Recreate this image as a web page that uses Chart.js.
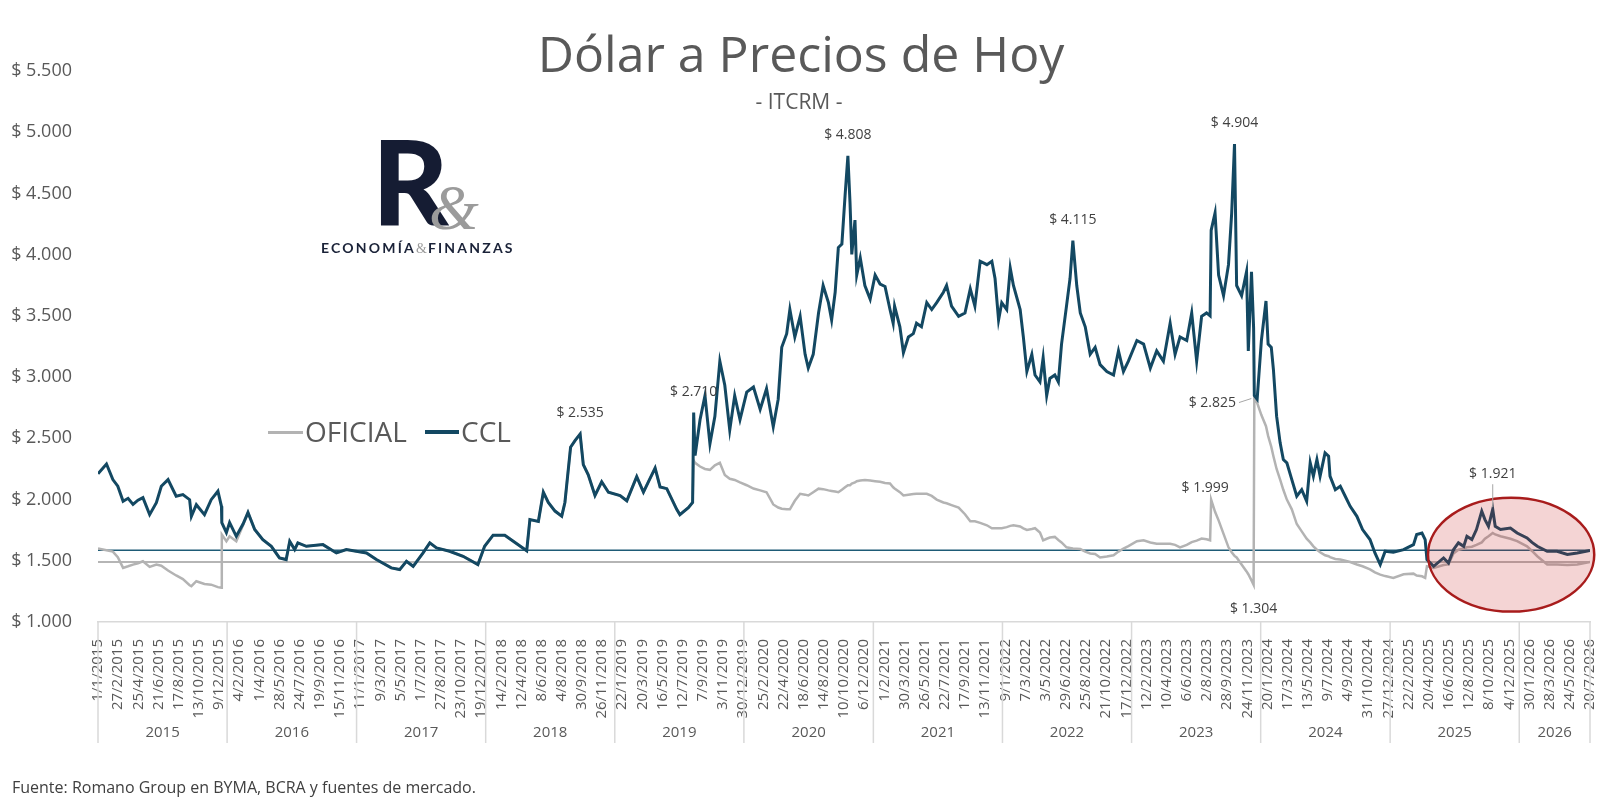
<!DOCTYPE html>
<html lang="es">
<head>
<meta charset="utf-8">
<title>Dólar a Precios de Hoy</title>
<script src="https://cdn.jsdelivr.net/npm/chart.js@4.4.1/dist/chart.umd.min.js"></script>
<style>
    html, body { margin: 0; padding: 0; background: #fff; }
    #wrap { position: relative; width: 1600px; height: 800px; overflow: hidden; font-family: "Open Sans", sans-serif; }
    #grafico { position: absolute; left: 0; top: 0; }
    .txt { position: absolute; white-space: nowrap; line-height: 1; }
    #titulo { left: 1px; width: 1600px; top: 28px; font-size: 50px; color: #595959; text-align: center; }
    #subtitulo { left: -1px; width: 1600px; top: 91px; font-size: 21px; color: #595959; text-align: center; }
    #logoR { left: 372px; top: 122px; font-family: "Lato", sans-serif; font-weight: 900; font-size: 118px; color: #151c33; }
    #logoAmp { left: 429px; top: 176px; font-family: "Liberation Serif", serif; font-style: italic; font-size: 64px; color: #9b9b9b; }
    #logoSub { left: 321px; top: 241px; font-family: "Lato", sans-serif; font-weight: 700; font-size: 14px; letter-spacing: 2.2px; color: #1a2238; }
    #logoSub .amp { font-family: "Liberation Serif", serif; font-weight: 400; color: #9b9b9b; letter-spacing: 1px; }
    .ley { font-size: 28px; color: #595959; top: 417px; }
    .lin { position: absolute; }
    #fuente { left: 12px; top: 779px; font-size: 16px; color: #404040; }
</style>
</head>
<body>
<div id="wrap">
    <canvas id="grafico" width="1600" height="800"></canvas>
    <div class="txt" id="titulo">Dólar a Precios de Hoy</div>
    <div class="txt" id="subtitulo">- ITCRM -</div>
    <div class="txt" id="logoR">R</div>
    <div class="txt" id="logoAmp">&amp;</div>
    <div class="txt" id="logoSub">ECONOMÍA<span class="amp">&amp;</span>FINANZAS</div>
    <div class="lin" style="left:268px; top:431px; width:35px; height:3px; background:#b3b3b3;"></div>
    <div class="txt ley" style="left:305px;">OFICIAL</div>
    <div class="lin" style="left:425px; top:430px; width:34px; height:4px; background:#134862;"></div>
    <div class="txt ley" style="left:461px;">CCL</div>
    <div class="txt" id="fuente">Fuente: Romano Group en BYMA, BCRA y fuentes de mercado.</div>
</div>

<script>
// --- Datos ---
const fechas = [
    '2015-01-01','2015-01-25','2015-02-12','2015-02-26','2015-03-13','2015-03-27','2015-04-10','2015-04-24','2015-05-08','2015-05-27','2015-06-15','2015-06-29','2015-07-18','2015-08-10','2015-08-29','2015-09-17','2015-09-22','2015-10-06','2015-10-29','2015-11-17','2015-12-06','2015-12-16','2015-12-17','2015-12-30',
    '2016-01-08','2016-01-27','2016-02-15','2016-02-29','2016-03-19','2016-04-11','2016-05-05','2016-05-28','2016-06-16','2016-06-26','2016-07-10','2016-07-19','2016-08-12','2016-09-28','2016-11-05','2016-12-03','2016-12-31',
    '2017-01-29','2017-02-26','2017-04-09','2017-05-03','2017-05-22','2017-06-10','2017-07-08','2017-07-27','2017-08-15','2017-09-21','2017-10-29','2017-12-10','2017-12-29',
    '2018-01-22','2018-02-24','2018-03-30','2018-04-27','2018-05-06','2018-05-30','2018-06-13','2018-06-27','2018-07-16','2018-08-04','2018-08-13','2018-08-29','2018-09-11','2018-09-25','2018-10-04','2018-10-18','2018-11-06','2018-11-25','2018-12-14',
    '2019-01-16','2019-02-04','2019-03-04','2019-03-23','2019-04-06','2019-04-25','2019-05-09','2019-05-28','2019-06-25','2019-07-04','2019-07-28','2019-08-09','2019-08-12','2019-08-16','2019-08-30','2019-09-13','2019-09-27','2019-10-11','2019-10-25','2019-11-08','2019-11-22','2019-12-06','2019-12-21',
    '2020-01-09','2020-01-28','2020-02-16','2020-03-05','2020-03-24','2020-04-07','2020-04-17','2020-05-01','2020-05-10','2020-05-24','2020-06-08','2020-06-22','2020-07-01','2020-07-15','2020-07-30','2020-08-12','2020-08-27','2020-09-05','2020-09-15','2020-09-24','2020-10-04','2020-10-13','2020-10-21','2020-10-27','2020-11-01','2020-11-10','2020-11-15','2020-11-25','2020-12-08','2020-12-23',
    '2021-01-06','2021-01-20','2021-02-03','2021-02-17','2021-02-26','2021-03-02','2021-03-17','2021-03-27','2021-04-10','2021-04-24','2021-05-03','2021-05-17','2021-06-01','2021-06-15','2021-06-29','2021-07-18','2021-07-27','2021-08-10','2021-08-30','2021-09-17','2021-10-02','2021-10-15','2021-10-30','2021-11-18','2021-12-02','2021-12-11','2021-12-21','2021-12-30',
    '2022-01-13','2022-01-23','2022-02-01','2022-02-20','2022-03-01','2022-03-11','2022-03-25','2022-04-03','2022-04-17','2022-04-26','2022-05-06','2022-05-15','2022-05-29','2022-06-08','2022-06-17','2022-07-01','2022-07-11','2022-07-19','2022-07-30','2022-08-09','2022-08-23','2022-09-06','2022-09-20','2022-10-04','2022-10-23','2022-11-11','2022-11-25','2022-12-09','2022-12-23',
    '2023-01-16','2023-02-04','2023-02-23','2023-03-13','2023-04-01','2023-04-20','2023-05-04','2023-05-18','2023-06-06','2023-06-20','2023-07-04','2023-07-18','2023-08-01','2023-08-11','2023-08-14','2023-08-25','2023-09-04','2023-09-18','2023-10-02','2023-10-11','2023-10-19','2023-10-25','2023-11-08','2023-11-22','2023-11-27','2023-12-06','2023-12-12','2023-12-14','2023-12-22',
    '2024-01-03','2024-01-16','2024-01-22','2024-01-31','2024-02-06','2024-02-15','2024-02-25','2024-03-05','2024-03-15','2024-03-29','2024-04-12','2024-04-26','2024-05-10','2024-05-20','2024-05-29','2024-06-08','2024-06-17','2024-07-01','2024-07-11','2024-07-15','2024-07-30','2024-08-13','2024-08-27','2024-09-10','2024-09-29','2024-10-15','2024-11-05','2024-11-19','2024-12-04','2024-12-18',
    '2025-01-10','2025-02-08','2025-03-08','2025-03-17','2025-04-01','2025-04-10','2025-04-15','2025-05-04','2025-06-01','2025-06-15','2025-06-29','2025-07-13','2025-07-28','2025-08-06','2025-08-20','2025-09-02','2025-09-17','2025-09-26','2025-10-06','2025-10-18','2025-10-25','2025-11-09','2025-12-07','2025-12-26',
    '2026-01-23','2026-02-06','2026-02-21','2026-03-21','2026-04-18','2026-05-17','2026-06-14','2026-07-20'
];

const ccl = [
    2210,2290,2163,2109,1986,2010,1960,1995,2016,1877,1975,2109,2163,2027,2041,1999,1863,1958,1877,1999,2068,1945,1812,1730,
    1812,1700,1800,1894,1755,1673,1618,1524,1510,1659,1591,1646,1618,1632,1564,1591,1578,
    1564,1510,1442,1428,1496,1455,1564,1646,1605,1578,1537,1469,1618,
    1709,1709,1639,1582,1836,1822,2060,1976,1906,1864,1976,2427,2483,2535,2286,2202,2033,2145,2060,
    2033,1990,2187,2060,2145,2257,2103,2089,1920,1877,1934,1976,2710,2360,2652,2849,2455,2680,3130,2933,2567,2849,2652,
    2877,2919,2736,2905,2595,2820,3243,3355,3552,3328,3496,3186,3074,3186,3524,3748,3608,3467,3693,4058,4087,4480,4808,4424,4002,4283,3834,3974,3748,3637,
    3834,3760,3740,3552,3440,3580,3411,3200,3328,3355,3440,3411,3608,3552,3608,3693,3748,3580,3496,3524,3721,3580,3946,3918,3946,3805,3467,3608,
    3552,3890,3748,3552,3328,3046,3186,3017,2961,3158,2849,2989,3017,2961,3270,3580,3805,4115,3748,3524,3411,3186,3242,3102,3046,3017,3214,3046,3130,
    3299,3270,3074,3214,3130,3440,3186,3328,3299,3524,3130,3496,3524,3500,4199,4340,3834,3665,3918,4340,4904,3748,3665,3861,3214,3861,3400,2850,2820,
    3299,3622,3270,3242,3062,2681,2463,2327,2300,2163,2027,2081,1986,2300,2191,2327,2191,2381,2354,2191,2081,2109,2027,1945,1863,1755,1673,1564,1469,1578,
    1570,1591,1632,1714,1727,1673,1510,1455,1523,1482,1591,1646,1618,1700,1673,1755,1905,1836,1782,1921,1782,1755,1768,1727,
    1686,1650,1618,1578,1578,1551,1564,1585
];

const oficial = [
    1600,1586,1575,1530,1442,1455,1469,1480,1496,1450,1469,1460,1420,1380,1350,1300,1292,1333,1310,1305,1285,1279,1714,1659,
    1700,1660,1790,1894,1755,1673,1618,1524,1510,1659,1591,1646,1618,1632,1564,1591,1578,
    1564,1510,1442,1428,1496,1455,1564,1646,1605,1578,1537,1469,1618,
    1709,1709,1639,1582,1836,1822,2060,1976,1906,1864,1976,2427,2483,2535,2286,2202,2033,2145,2060,
    2033,1990,2187,2060,2145,2257,2103,2089,1920,1877,1934,1976,2320,2300,2270,2250,2243,2280,2300,2200,2170,2160,2140,
    2117,2090,2075,2060,1960,1935,1925,1920,1920,1990,2047,2040,2033,2060,2089,2085,2075,2070,2065,2060,2080,2100,2117,2117,2130,2140,2150,2155,2160,2155,
    2150,2145,2135,2131,2100,2090,2060,2033,2040,2045,2047,2047,2047,2030,2000,1976,1970,1955,1934,1880,1822,1822,1810,1790,1766,1766,1766,1766,
    1775,1785,1790,1780,1765,1752,1760,1766,1730,1667,1680,1690,1695,1670,1650,1610,1605,1600,1598,1596,1575,1560,1555,1527,1535,1545,1575,1600,1620,
    1660,1667,1650,1640,1639,1639,1630,1610,1630,1653,1665,1681,1675,1667,1999,1900,1830,1720,1610,1570,1540,1527,1470,1413,1390,1340,1304,2825,2790,
    2690,2599,2520,2430,2354,2250,2163,2080,2000,1920,1800,1740,1680,1650,1618,1590,1570,1545,1537,1530,1515,1510,1500,1490,1470,1455,1430,1405,1387,1375,
    1360,1390,1395,1380,1373,1360,1455,1442,1465,1470,1560,1590,1600,1610,1615,1630,1650,1680,1700,1727,1715,1700,1680,1660,
    1618,1580,1537,1469,1469,1465,1470,1490
];

// líneas horizontales con el último valor de cada serie
const refCCL = ccl[ccl.length - 1];
const refOficial = oficial[oficial.length - 1];

const yTicks = [1000, 1500, 2000, 2500, 3000, 3500, 4000, 4500, 5000, 5500];
const inicio = '2015-01-01';
const fin = '2026-07-20';
const pasoEtiquetas = 57; // días entre etiquetas del eje
const anios = [2015, 2016, 2017, 2018, 2019, 2020, 2021, 2022, 2023, 2024, 2025, 2026];

// puntos destacados (el texto sale del valor)
const destacados = [
    { serie: 'ccl', fecha: '2018-09-25' },
    { serie: 'ccl', fecha: '2019-08-12' },
    { serie: 'ccl', fecha: '2020-10-21' },
    { serie: 'ccl', fecha: '2022-07-19' },
    { serie: 'ccl', fecha: '2023-10-19' },
    { serie: 'oficial', fecha: '2023-08-14', dx: -6, dy: -12 },
    { serie: 'oficial', fecha: '2023-12-14', dx: -42, dy: 4, guia: 'h' },
    { serie: 'oficial', fecha: '2023-12-12', dy: 24 },
    { serie: 'ccl', fecha: '2025-10-18', dy: -35, guia: 'v' }
];

// zona resaltada (en unidades de datos)
const zona = { desde: '2025-04-18', hasta: '2026-08-01', min: 1085, max: 2015 };

// --- Utilidades ---
const T0 = Date.UTC(2015, 0, 1);
function dia(iso) {
    const [a, m, d] = iso.split('-').map(Number);
    return Math.round((Date.UTC(a, m - 1, d) - T0) / 86400000);
}
function fmtFecha(n) {
    const f = new Date(T0 + n * 86400000);
    return `${f.getUTCDate()}/${f.getUTCMonth() + 1}/${f.getUTCFullYear()}`;
}
function fmtPeso(v) {
    return '$ ' + String(Math.round(v)).replace(/\B(?=(\d{3})+(?!\d))/g, '.');
}
function puntos(valores) {
    return fechas.map((f, i) => ({ x: dia(f), y: valores[i] }));
}

const series = { ccl, oficial };
const xMin = dia(inicio);
const xMax = dia(fin);

// --- Plugin: elipse, etiquetas y eje de años ---
const extras = {
    id: 'extras',
    afterDatasetsDraw(chart) {
        const { ctx, scales: { x, y } } = chart;
        const x1 = x.getPixelForValue(dia(zona.desde));
        const x2 = x.getPixelForValue(dia(zona.hasta));
        const y1 = y.getPixelForValue(zona.max);
        const y2 = y.getPixelForValue(zona.min);
        ctx.save();
        ctx.beginPath();
        ctx.ellipse((x1 + x2) / 2, (y1 + y2) / 2, (x2 - x1) / 2, (y2 - y1) / 2, 0, 0, Math.PI * 2);
        ctx.fillStyle = 'rgba(200, 40, 40, 0.2)';
        ctx.fill();
        ctx.lineWidth = 2.5;
        ctx.strokeStyle = '#a81c1c';
        ctx.stroke();
        ctx.restore();
    },
    afterDraw(chart) {
        const { ctx, scales: { x, y } } = chart;
        ctx.save();

        // etiquetas de valores
        ctx.font = '14px "Open Sans"';
        ctx.textAlign = 'center';
        ctx.textBaseline = 'middle';
        destacados.forEach(d => {
            const i = fechas.indexOf(d.fecha);
            const v = series[d.serie][i];
            const px = x.getPixelForValue(dia(d.fecha));
            const py = y.getPixelForValue(v);
            const tx = px + (d.dx || 0);
            const ty = py + (d.dy === undefined ? -21 : d.dy);
            const texto = fmtPeso(v);
            ctx.fillStyle = '#404040';
            ctx.fillText(texto, tx, ty);
            ctx.strokeStyle = '#a6a6a6';
            ctx.lineWidth = 1;
            if (d.guia === 'h') {
                const w = ctx.measureText(texto).width;
                ctx.beginPath();
                ctx.moveTo(tx + w / 2 + 3, ty);
                ctx.lineTo(px - 3, py);
                ctx.stroke();
            } else if (d.guia === 'v') {
                ctx.beginPath();
                ctx.moveTo(tx, ty + 10);
                ctx.lineTo(px, py - 2);
                ctx.stroke();
            }
        });

        // separadores y nombres de años
        const arriba = x.top;
        const abajo = 743;
        ctx.strokeStyle = '#d9d9d9';
        ctx.lineWidth = 1.5;
        ctx.font = '15px "Open Sans"';
        ctx.fillStyle = '#595959';
        anios.forEach(a => {
            const ini = Math.max(x.getPixelForValue(dia(`${a}-01-01`)), x.left);
            const finA = Math.min(x.getPixelForValue(dia(`${a + 1}-01-01`)), x.right);
            ctx.beginPath();
            ctx.moveTo(ini, arriba);
            ctx.lineTo(ini, abajo);
            ctx.stroke();
            ctx.fillText(String(a), (ini + finA) / 2, 733);
        });
        ctx.beginPath();
        ctx.moveTo(x.right, arriba);
        ctx.lineTo(x.right, abajo);
        ctx.stroke();
        ctx.restore();
    }
};

Chart.defaults.font.family = '"Open Sans", sans-serif';

new Chart(document.getElementById('grafico'), {
    type: 'line',
    data: {
        datasets: [
            {
                label: 'CCL',
                data: puntos(ccl),
                borderColor: '#134862',
                borderWidth: 3,
                pointRadius: 0,
                tension: 0,
                order: 0
            },
            {
                label: 'OFICIAL',
                data: puntos(oficial),
                borderColor: '#b3b3b3',
                borderWidth: 2.5,
                pointRadius: 0,
                tension: 0,
                order: 1
            },
            {
                label: 'CCL actual',
                data: [{ x: xMin, y: refCCL }, { x: xMax, y: refCCL }],
                borderColor: '#1e5b76',
                borderWidth: 1.5,
                pointRadius: 0,
                order: 2
            },
            {
                label: 'OFICIAL actual',
                data: [{ x: xMin, y: refOficial }, { x: xMax, y: refOficial }],
                borderColor: '#b5b5b5',
                borderWidth: 2,
                pointRadius: 0,
                order: 3
            }
        ]
    },
    options: {
        responsive: false,
        devicePixelRatio: 1,
        animation: false,
        layout: { padding: { top: 71, right: 10, left: 0, bottom: 0 } },
        plugins: {
            legend: { display: false },
            tooltip: { enabled: false }
        },
        scales: {
            x: {
                type: 'linear',
                min: xMin,
                max: xMax,
                grid: { display: false },
                border: { display: true, color: '#d9d9d9', width: 1.5 },
                afterBuildTicks: s => {
                    s.ticks = [];
                    for (let v = xMin; v <= xMax; v += pasoEtiquetas) s.ticks.push({ value: v });
                },
                ticks: {
                    autoSkip: false,
                    minRotation: 90,
                    maxRotation: 90,
                    padding: 9,
                    color: '#595959',
                    font: { size: 15 },
                    callback: v => fmtFecha(v)
                },
                afterFit: s => {
                    s.height = 178;
                    s.paddingLeft = 0;
                    s.paddingRight = 0;
                }
            },
            y: {
                min: 1000,
                max: 5500,
                grid: { display: false },
                border: { display: false },
                afterBuildTicks: s => { s.ticks = yTicks.map(v => ({ value: v })); },
                ticks: {
                    padding: 18,
                    color: '#595959',
                    font: { size: 18 },
                    callback: v => fmtPeso(v)
                },
                afterFit: s => { s.width = 98; }
            }
        }
    },
    plugins: [extras]
});
</script>
</body>
</html>
